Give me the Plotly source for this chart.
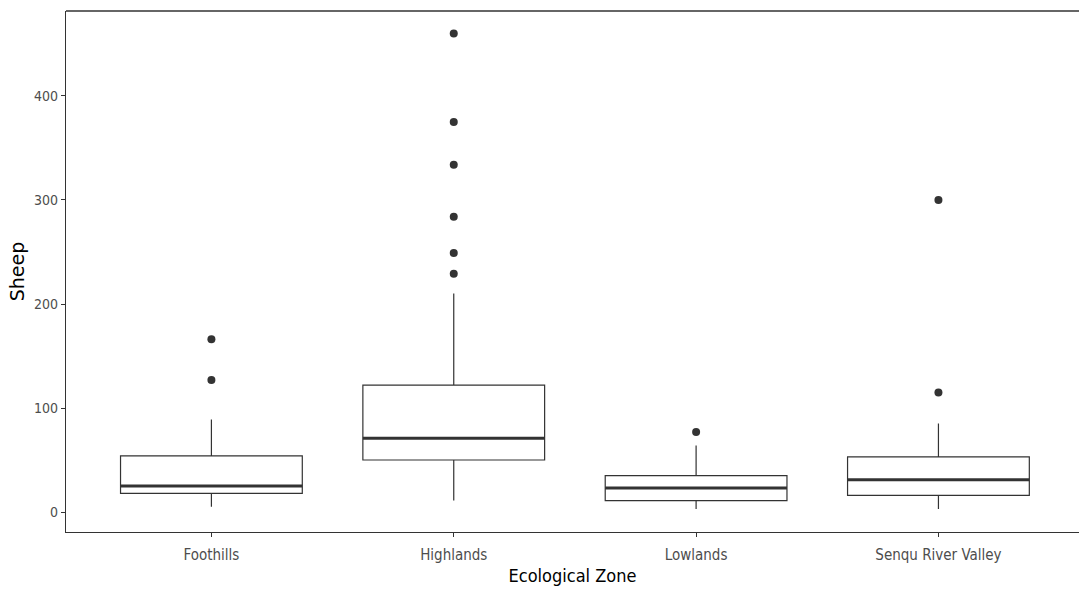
import plotly.graph_objects as go

# Sheep counts by ecological zone: five-number summaries and outliers
zones = ["Foothills", "Highlands", "Lowlands", "Senqu River Valley"]
lower_whisker = [5, 11, 3, 3]
q1 = [18, 50, 11, 16]
median = [25, 71, 23, 31]
q3 = [54, 122, 35, 53]
upper_whisker = [89, 210, 64, 85]
outliers = {
    "Foothills": [127, 166],
    "Highlands": [229, 249, 284, 334, 375, 460],
    "Lowlands": [77],
    "Senqu River Valley": [115, 300],
}
y_ticks = [0, 100, 200, 300, 400]

BOX_WIDTH = 0.75
INK = "#333333"
TICK_GREY = "#4d4d4d"
FONT = "DejaVu Sans Condensed, Liberation Sans, Arial, sans-serif"

pos = list(range(len(zones)))

fig = go.Figure()

fig.add_trace(go.Box(
    x=pos,
    q1=q1, median=median, q3=q3,
    lowerfence=lower_whisker, upperfence=upper_whisker,
    width=BOX_WIDTH,
    whiskerwidth=0,
    fillcolor="white",
    line=dict(color=INK, width=1.2),
    boxpoints=False,
    showlegend=False,
    hoverinfo="skip",
))

# thick median bars
mx, my = [], []
for i, m in zip(pos, median):
    mx += [i - BOX_WIDTH / 2, i + BOX_WIDTH / 2, None]
    my += [m, m, None]
fig.add_trace(go.Scatter(
    x=mx, y=my, mode="lines",
    line=dict(color=INK, width=3),
    showlegend=False, hoverinfo="skip",
))

# outlier points
ox, oy = [], []
for i, z in enumerate(zones):
    for v in outliers[z]:
        ox.append(i)
        oy.append(v)
fig.add_trace(go.Scatter(
    x=ox, y=oy, mode="markers",
    marker=dict(color=INK, size=8),
    showlegend=False, hoverinfo="skip",
))

# top border of the panel (right border falls past the page edge)
fig.add_shape(type="line", xref="paper", yref="paper",
              x0=0, x1=1, y0=1, y1=1, line=dict(color=INK, width=1.3))

fig.update_layout(
    width=1079, height=591,
    margin=dict(l=66, r=0, t=11, b=59),
    paper_bgcolor="white",
    plot_bgcolor="white",
    xaxis=dict(
        range=[-0.6, 3.58],
        tickmode="array", tickvals=pos, ticktext=zones,
        showgrid=False, zeroline=False,
        showline=True, linecolor=INK, linewidth=1.3,
        ticks="outside", ticklen=4, tickcolor=INK, tickwidth=1,
        ticklabelstandoff=5,
        tickfont=dict(family=FONT, size=15, color=TICK_GREY),
        title=dict(text="Ecological Zone", standoff=6,
                   font=dict(family=FONT, size=18, color="black")),
    ),
    yaxis=dict(
        range=[-19.2, 481.7],
        tickmode="array", tickvals=y_ticks,
        showgrid=False, zeroline=False,
        showline=True, linecolor=INK, linewidth=1.3,
        ticks="outside", ticklen=4, tickcolor=INK, tickwidth=1,
        tickfont=dict(family=FONT, size=14, color=TICK_GREY),
        title=dict(text="Sheep", standoff=4,
                   font=dict(family="DejaVu Sans, Liberation Sans, Arial, sans-serif",
                             size=19, color="black")),
    ),
)

fig.write_html("out.html")
